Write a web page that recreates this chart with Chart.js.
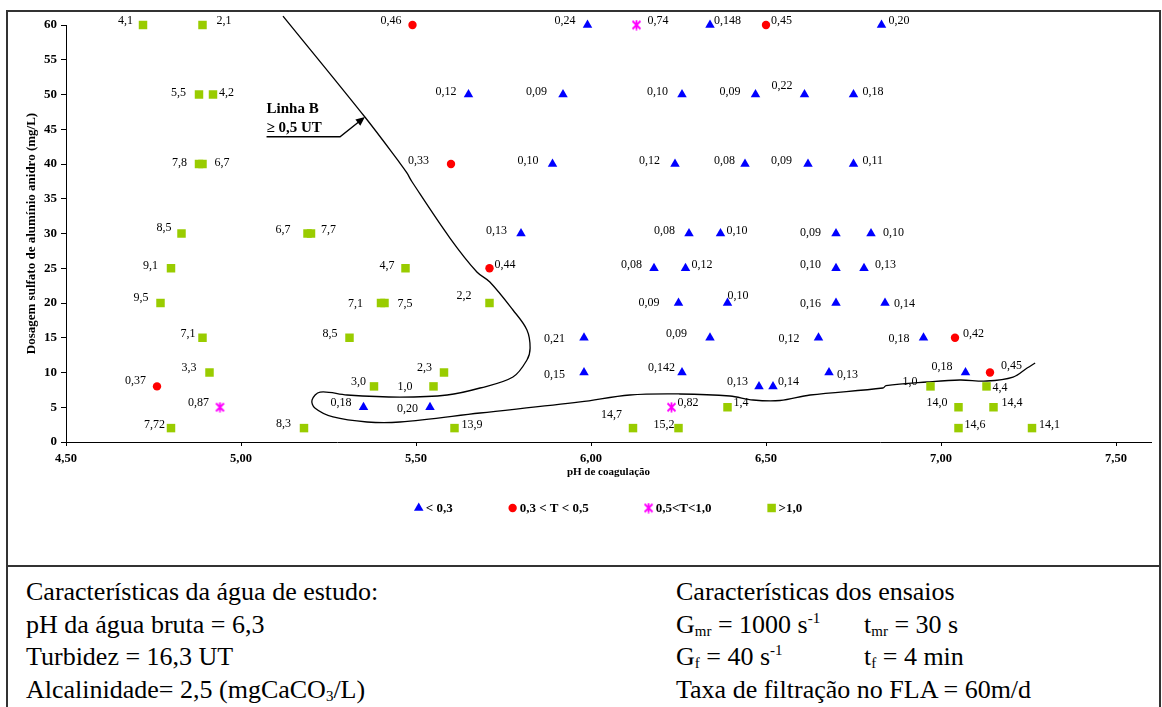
<!DOCTYPE html>
<html>
<head>
<meta charset="utf-8">
<script src="https://cdn.jsdelivr.net/npm/chart.js@4.4.1/dist/chart.umd.min.js"></script>
<style>
  html, body { margin: 0; padding: 0; background: #fff; }
  body { width: 1162px; height: 707px; position: relative; overflow: hidden; font-family: "Liberation Serif", "Times New Roman", serif; }
  #frame { position: absolute; left: 6px; top: 10px; width: 1155px; height: 720px; border: 2px solid #333; box-sizing: border-box; }
  #divider { position: absolute; left: 6px; top: 565px; width: 1155px; height: 2px; background: #333; }
  #wrap { position: absolute; left: 8px; top: 12px; width: 1151px; height: 553px; }
  .info { position: absolute; top: 576px; font-size: 26px; line-height: 32.5px; color: #000; white-space: nowrap; }
  .info sub { font-size: 15px; vertical-align: -3px; line-height: 0; }
  .info sup { font-size: 15px; vertical-align: 10px; line-height: 0; }
  .col { display: inline-block; width: 188px; }
</style>
</head>
<body>
<div id="frame"></div>
<div id="divider"></div>
<div id="wrap"><canvas id="c" width="1151" height="553"></canvas></div>
<div class="info" style="left:26px;">
  Características da água de estudo:<br>
  pH da água bruta = 6,3<br>
  Turbidez = 16,3 UT<br>
  Alcalinidade= 2,5 (mgCaCO<sub>3</sub>/L)
</div>
<div class="info" style="left:676px;">
  Características dos ensaios<br>
  <span class="col">G<sub>mr</sub> = 1000 s<sup>-1</sup></span>t<sub>mr</sub> = 30 s<br>
  <span class="col">G<sub>f</sub> = 40 s<sup>-1</sup></span>t<sub>f</sub> = 4 min<br>
  Taxa de filtração no FLA = 60m/d
</div>
<script>
// ---- Data: turbidity remaining (T) classes ----
// T < 0,3
const lowPH   = [5.99,6.34,6.83, 5.65,5.92,6.26,6.47,6.61,6.75, 5.89,6.24,6.44,6.62,6.75, 5.80,6.28,6.37,6.70,6.80, 6.18,6.27,6.70,6.78, 6.25,6.39,6.70,6.84, 5.98,6.34,6.65,6.95, 5.98,6.26,6.68,7.07, 6.48,6.52, 5.35,5.54];
const lowDose = [60,60,60, 50,50,50,50,50,50, 40,40,40,40,40, 30,30,30,30,30, 25,25,25,25, 20,20,20,20, 15,15,15,15, 10,10,10,10, 8,8, 5,5];
const lowTurb = ["0,24","0,148","0,20", "0,12","0,09","0,10","0,09","0,22","0,18", "0,10","0,12","0,08","0,09","0,11", "0,13","0,08","0,10","0,09","0,10", "0,08","0,12","0,10","0,13", "0,09","0,10","0,16","0,14", "0,21","0,09","0,12","0,18", "0,15","0,142","0,13","0,18", "0,13","0,14", "0,18","0,20"];
// 0,3 < T < 0,5
const midPH   = [5.49,6.50,5.60,5.71,4.76,7.04,7.14];
const midDose = [60,60,40,25,8,15,10];
const midTurb = ["0,46","0,45","0,33","0,44","0,37","0,42","0,45"];
// 0,5 < T < 1,0
const highPH   = [6.13,4.94,6.23];
const highDose = [60,5,5];
const highTurb = ["0,74","0,87","0,82"];
// T > 1,0
const vhPH   = [4.72,4.89, 4.88,4.92, 4.88,4.89, 4.83,5.19,5.20, 4.80,5.47, 4.77,5.40,5.41,5.71, 4.89,5.31, 4.91,5.58, 5.38,5.55,6.97,7.13, 6.39,7.05,7.15, 4.80,5.18,5.61,6.12,6.25,7.05,7.26];
const vhDose = [60,60, 50,50, 40,40, 30,30,30, 25,25, 20,20,20,20, 15,15, 10,10, 8,8,8,8, 5,5,5, 2,2,2,2,2,2,2];
const vhTurb = ["4,1","2,1", "5,5","4,2", "7,8","6,7", "8,5","6,7","7,7", "9,1","4,7", "9,5","7,1","7,5","2,2", "7,1","8,5", "3,3","2,3", "3,0","1,0","1,0","4,4", "1,4","14,0","14,4", "7,72","8,3","13,9","14,7","15,2","14,6","14,1"];

// "Linha B" boundary curve (pH, dose)
const curvePH   = [5.120,5.354,5.454,5.474,5.489,5.597,5.674,5.711,5.777,5.817,5.826,5.817,5.777,5.683,5.589,5.454,5.303,5.226,5.203,5.211,5.263,5.360,5.454,5.683,5.969,6.111,6.254,6.397,6.463,6.540,6.626,6.834,6.843,6.960,7.054,7.131,7.206,7.246,7.269];
const curveDose = [61.29,46.76,40.14,38.71,37.41,29.35,24.46,23.02,18.99,16.12,13.53,11.80,9.35,7.77,6.76,6.47,6.76,7.19,6.04,4.89,3.60,2.88,2.88,4.17,5.76,6.76,6.91,6.62,6.04,5.97,6.76,7.77,8.10,8.63,8.92,8.78,9.35,10.65,11.37];
// annotation arrow (pH, dose): start, corner, tip
const arrowPH   = [5.073, 5.283, 5.354];
const arrowDose = [43.93, 43.93, 46.76];

// tick labels
const xTickStep = 0.5, xMin = 4.5, xMax = 7.6;
const yTickStep = 5, yMin = 0, yMax = 60;

// label placement nudges (pixels): [dx, dy]; dx<0 text ends left of marker, dx>=0 text starts right
const lowNudge = [[-12,-4],[4,-4],[7,-4],[-12,-3],[-16,-3],[-14,-3],[-15,-3],[-12,-9],[9,-3],[-14,-3],[-15,-3],[-10,-3],[-16,-3],[9,-3],[-14,-3],[-14,-3],[6,-3],[-15,-1],[12,-1],[-12,-3],[6,-3],[-15,-3],[11,-3],[-19,0],[0,-7],[-15,1],[9,1],[-19,1],[-23,-4],[-19,1],[-14,1],[-19,2],[-7,-5],[8,2],[-13,-6],[-11,-5],[5,-5],[-12,-4],[-12,2]];
const midNudge = [[-11,-4],[5,-4],[-22,-3],[5,-3],[-11,-6],[8,-4],[11,-7]];
const highNudge = [[11,-4],[-11,-4],[6,-4]];
const vhNudge = [[-10,-4],[14,-4],[-13,-2],[6,-2],[-12,-1],[12,-1],[-10,-6],[-17,-4],[10,-4],[-13,-2],[-11,-2],[-12,-5],[-18,1],[13,1],[-18,-7],[-7,-4],[-12,-4],[-13,-5],[-12,-5],[-8,-5],[-21,0],[-13,-5],[6,1],[6,-4],[-11,-4],[8,-4],[-6,-3],[-13,-4],[7,-3],[-11,-13],[-4,-3],[6,-3],[7,-3]];

const toPts = (xs, ys) => xs.map((x, i) => ({ x: x, y: ys[i] }));

// star (asterisk) marker
function makeStar(size) {
  const c = document.createElement('canvas');
  c.width = size; c.height = size;
  const g = c.getContext('2d');
  g.strokeStyle = '#FF00FF';
  g.lineWidth = 1.8;
  g.beginPath();
  g.moveTo(1.5, 1.5); g.lineTo(size - 1.5, size - 1.5);
  g.moveTo(size - 1.5, 1.5); g.lineTo(1.5, size - 1.5);
  g.moveTo(size / 2, 0.5); g.lineTo(size / 2, size - 0.5);
  g.stroke();
  return c;
}
const starImg = makeStar(11);

const SERIF = '"Liberation Serif", "Times New Roman", serif';

const labelPlugin = {
  id: 'pointLabels',
  afterDatasetsDraw(chart) {
    const ctx = chart.ctx;
    ctx.save();
    ctx.font = '12px ' + SERIF;
    ctx.fillStyle = '#000';
    ctx.textBaseline = 'middle';
    chart.data.datasets.forEach((ds, i) => {
      if (!ds.pointText) return;
      const meta = chart.getDatasetMeta(i);
      meta.data.forEach((el, j) => {
        const n = ds.pointNudge[j];
        ctx.textAlign = n[0] < 0 ? 'right' : 'left';
        ctx.fillText(ds.pointText[j], el.x + n[0], el.y + n[1]);
      });
    });
    // arrow annotation
    const xs = chart.scales.x, ys = chart.scales.y;
    const p = arrowPH.map((v, i) => [xs.getPixelForValue(v), ys.getPixelForValue(arrowDose[i])]);
    ctx.strokeStyle = '#000';
    ctx.lineWidth = 1.4;
    ctx.beginPath();
    ctx.moveTo(p[0][0], p[0][1]);
    ctx.lineTo(p[1][0], p[1][1]);
    const ang = Math.atan2(p[2][1] - p[1][1], p[2][0] - p[1][0]);
    const hl = 9;
    ctx.lineTo(p[2][0] - Math.cos(ang) * hl * 0.8, p[2][1] - Math.sin(ang) * hl * 0.8);
    ctx.stroke();
    ctx.fillStyle = '#000';
    ctx.beginPath();
    ctx.moveTo(p[2][0], p[2][1]);
    ctx.lineTo(p[2][0] - Math.cos(ang) * hl + Math.sin(ang) * 4, p[2][1] - Math.sin(ang) * hl - Math.cos(ang) * 4);
    ctx.lineTo(p[2][0] - Math.cos(ang) * hl - Math.sin(ang) * 4, p[2][1] - Math.sin(ang) * hl + Math.cos(ang) * 4);
    ctx.closePath();
    ctx.fill();
    ctx.font = 'bold 15px ' + SERIF;
    ctx.textAlign = 'left';
    ctx.textBaseline = 'middle';
    ctx.fillText('Linha B', p[0][0], p[0][1] - 28);
    ctx.fillText('\u2265 0,5 UT', p[0][0], p[0][1] - 9);
    ctx.restore();
  },
  afterDraw(chart) {
    // legend row
    const ctx = chart.ctx;
    const area = chart.chartArea;
    ctx.save();
    ctx.font = 'bold 13px ' + SERIF;
    ctx.textBaseline = 'middle';
    ctx.textAlign = 'left';
    const items = chart.data.datasets.filter(d => d.legendText);
    const gap = 56, half = 4, toText = 7;
    const widths = items.map(d => half + toText + ctx.measureText(d.legendText).width);
    const total = widths.reduce((a, b) => a + b, 0) + gap * (items.length - 1);
    let x = (area.left + area.right) / 2 - total / 2;
    const y = area.bottom + 66;
    items.forEach((d, i) => {
      const cx = x + half;
      ctx.fillStyle = d.pointBackgroundColor;
      ctx.strokeStyle = d.pointBackgroundColor;
      Chart.helpers.drawPoint(ctx, { pointStyle: d.pointStyle, radius: d.legendRadius, rotation: 0, borderWidth: 0 }, cx, y);
      ctx.fillStyle = '#000';
      ctx.fillText(d.legendText, cx + toText, y + 1);
      x += widths[i] + gap;
    });
    ctx.restore();
  }
};

const tickFmt2 = v => v.toFixed(2).replace('.', ',');

new Chart(document.getElementById('c'), {
  type: 'scatter',
  data: {
    datasets: [
      {
        label: 'Linha B',
        data: toPts(curvePH, curveDose),
        showLine: true,
        borderColor: '#000',
        borderWidth: 1.3,
        pointRadius: 0,
        tension: 0.35,
        fill: false,
        clip: false,
        order: 5
      },
      {
        label: '< 0,3', legendText: '< 0,3', legendRadius: 5.5,
        data: toPts(lowPH, lowDose), pointText: lowTurb, pointNudge: lowNudge,
        pointStyle: 'triangle', pointRadius: 5.5, pointBackgroundColor: '#0000FF', pointBorderColor: '#0000FF', pointBorderWidth: 0,
        clip: false, order: 1
      },
      {
        label: '0,3 < T < 0,5', legendText: '0,3 < T < 0,5', legendRadius: 4.2,
        data: toPts(midPH, midDose), pointText: midTurb, pointNudge: midNudge,
        pointStyle: 'circle', pointRadius: 4.2, pointBackgroundColor: '#FF0000', pointBorderColor: '#FF0000', pointBorderWidth: 0,
        clip: false, order: 1
      },
      {
        label: '0,5<T<1,0', legendText: '0,5<T<1,0', legendRadius: 5,
        data: toPts(highPH, highDose), pointText: highTurb, pointNudge: highNudge,
        pointStyle: starImg, pointRadius: 5, pointBackgroundColor: '#FF00FF', pointBorderColor: '#FF00FF', pointBorderWidth: 0,
        clip: false, order: 1
      },
      {
        label: '>1,0', legendText: '>1,0', legendRadius: 6,
        data: toPts(vhPH, vhDose), pointText: vhTurb, pointNudge: vhNudge,
        pointStyle: 'rect', pointRadius: 6, pointBackgroundColor: '#99CC00', pointBorderColor: '#99CC00', pointBorderWidth: 0,
        clip: false, order: 1
      }
    ]
  },
  options: {
    responsive: false,
    animation: false,
    events: [],
    layout: { padding: { left: 0, top: 13, right: 8, bottom: 86 } },
    plugins: { legend: { display: false }, tooltip: { enabled: false } },
    scales: {
      x: {
        type: 'linear', min: xMin, max: xMax,
        border: { display: true, color: '#000', width: 1 },
        grid: { display: true, drawOnChartArea: false, drawTicks: true, tickLength: 4, color: '#000' },
        ticks: { stepSize: xTickStep, includeBounds: false, padding: 5, color: '#000', font: { family: SERIF, size: 12.5, weight: 'bold' }, callback: v => tickFmt2(v), maxRotation: 0 },
        title: { display: true, text: 'pH de coagulação', color: '#000', font: { family: SERIF, size: 11, weight: 'bold' }, padding: { top: 0, bottom: 0 } },
        afterFit: axis => { axis.height = 37; }
      },
      y: {
        type: 'linear', min: yMin, max: yMax,
        border: { display: true, color: '#000', width: 1 },
        grid: { display: true, drawOnChartArea: false, drawTicks: true, tickLength: 5, color: '#000' },
        ticks: { stepSize: yTickStep, padding: 4, color: '#000', font: { family: SERIF, size: 13, weight: 'bold' } },
        title: { display: true, text: 'Dosagem sulfato de alumínio anidro (mg/L)', color: '#000', font: { family: SERIF, size: 13, weight: 'bold' }, padding: { top: 16, bottom: 0 } },
        afterFit: axis => { axis.width = 58; }
      }
    }
  },
  plugins: [labelPlugin]
});
</script>
</body>
</html>
